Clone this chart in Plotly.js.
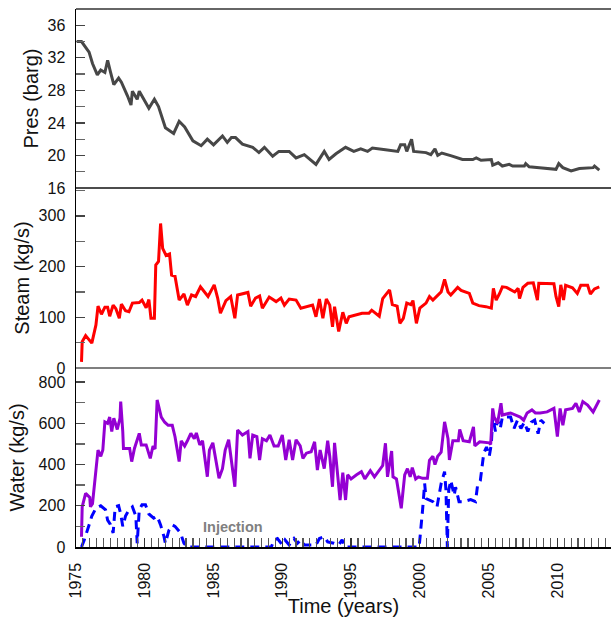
<!DOCTYPE html>
<html>
<head>
<meta charset="utf-8">
<script src="https://cdn.plot.ly/plotly-3.0.1.min.js"></script>
<style>
html,body{margin:0;padding:0;background:#fff;}
#chart{width:611px;height:617px;}
</style>
</head>
<body>
<div id="chart"></div>
<script>
// Pressure (barg)
const presYears = [1975.05, 1975.4, 1975.95, 1976.2, 1976.55, 1976.8, 1977.1, 1977.3, 1977.5, 1977.75, 1978.1,
  1978.3, 1978.75, 1979.0, 1979.1, 1979.45, 1979.6, 1980.3, 1980.7, 1981.0, 1981.5,
  1982.1, 1982.5, 1982.9, 1983.5, 1984.1, 1984.55, 1985.0, 1985.65, 1986.0, 1986.3,
  1986.6, 1987.1, 1987.85, 1988.3, 1988.7, 1989.3, 1989.75, 1990.5, 1991.0, 1991.6,
  1992.0, 1992.45, 1993.05, 1993.4, 1993.9, 1994.6, 1995.2, 1995.7, 1996.2, 1996.55,
  1997.5, 1998.4, 1998.6, 1998.9, 1999.05, 1999.4, 1999.55, 2000.45, 2000.8, 2001.1,
  2001.3, 2001.6, 2002.3, 2003.1, 2003.85, 2004.1, 2004.45, 2005.2, 2005.3, 2005.7,
  2006.0, 2006.5, 2006.75, 2007.6, 2007.7, 2007.95, 2008.7, 2009.9, 2010.1, 2010.4,
  2011.0, 2011.6, 2012.6, 2012.7, 2013.05];
const presValues = [34.0, 34.0, 32.7, 31.3, 29.9, 30.5, 30.2, 31.7, 30.3, 28.7, 29.5,
  29.0, 27.3, 26.2, 27.9, 26.9, 27.9, 25.8, 26.9, 26.0, 23.4,
  22.7, 24.2, 23.5, 21.8, 21.2, 22.0, 21.3, 22.4, 21.6, 22.2,
  22.2, 21.4, 21.0, 20.35, 21.0, 19.9, 20.5, 20.5, 19.7, 20.1,
  19.5, 18.9, 20.5, 19.5, 20.2, 21.0, 20.5, 20.8, 20.5, 20.9,
  20.7, 20.5, 21.3, 21.3, 20.5, 22.0, 20.5, 20.35, 20.1, 20.8,
  20.0, 20.3, 19.95, 19.5, 19.5, 19.7, 19.4, 19.5, 18.8, 19.1,
  18.7, 18.9, 18.7, 18.7, 19.0, 18.6, 18.5, 18.3, 19.0, 18.5,
  18.1, 18.4, 18.5, 18.7, 18.2];

// Steam (kg/s)
const steamYears = [1975.4, 1975.45, 1975.7, 1976.15, 1976.45, 1976.6, 1976.85, 1977.1, 1977.3, 1977.45,
  1977.7, 1977.9, 1978.15, 1978.3, 1978.6, 1978.85, 1979.1, 1979.6, 1979.8, 1980.1,
  1980.3, 1980.45, 1980.7, 1980.8, 1981.0, 1981.15, 1981.3, 1981.55, 1981.8, 1981.95,
  1982.2, 1982.5, 1982.85, 1983.1, 1983.4, 1983.7, 1984.05, 1984.4, 1984.6, 1985.05,
  1985.3, 1985.5, 1985.9, 1986.25, 1986.55, 1986.75, 1987.1, 1987.5, 1987.7, 1988.05,
  1988.35, 1988.55, 1989.05, 1989.55, 1989.9, 1990.15, 1990.5, 1991.0, 1991.35, 1991.7,
  1992.2, 1992.45, 1992.7, 1992.95, 1993.2, 1993.45, 1993.65, 1993.8, 1994.1, 1994.4,
  1994.65, 1994.85, 1995.3, 1995.8, 1996.3, 1996.5, 1997.05, 1997.3, 1997.8, 1998.0,
  1998.35, 1998.55, 1998.8, 1999.05, 1999.35, 1999.5, 1999.75, 2000.0, 2000.45, 2000.7,
  2000.95, 2001.3, 2001.55, 2001.8, 2002.05, 2002.25, 2002.6, 2002.75, 2003.0, 2003.6,
  2003.85, 2004.3, 2004.8, 2005.2, 2005.35, 2005.55, 2005.8, 2006.0, 2006.3, 2006.65,
  2006.9, 2007.15, 2007.25, 2007.5, 2007.85, 2008.25, 2008.55, 2008.65, 2009.4, 2009.75,
  2009.9, 2010.1, 2010.25, 2010.45, 2010.6, 2011.1, 2011.45, 2011.7, 2012.2, 2012.4,
  2012.7, 2013.05];
const steamValues = [12, 52, 64, 49, 85, 122, 106, 120, 120, 102,
  124, 117, 98, 126, 113, 111, 128, 129, 134, 119,
  135, 98, 98, 203, 210, 285, 236, 222, 225, 183,
  181, 134, 146, 124, 144, 141, 160, 147, 141, 164,
  138, 108, 133, 141, 98, 144, 147, 149, 122, 138,
  142, 118, 140, 131, 138, 124, 136, 134, 118, 121,
  124, 101, 136, 98, 136, 124, 81, 121, 72, 110,
  88, 101, 104, 108, 108, 114, 102, 137, 154, 125,
  122, 88, 98, 128, 125, 133, 88, 118, 128, 141,
  134, 144, 150, 175, 150, 144, 154, 159, 153, 147,
  128, 123, 121, 118, 157, 134, 147, 160, 159, 154,
  150, 157, 137, 159, 167, 168, 134, 167, 167, 166,
  141, 121, 164, 134, 163, 158, 147, 163, 163, 146,
  156, 160];

// Water production (kg/s)
const waterYears = [1975.4, 1975.45, 1975.7, 1976.0, 1976.05, 1976.2, 1976.45, 1976.6, 1976.8, 1976.95,
  1977.1, 1977.3, 1977.45, 1977.6, 1977.75, 1978.0, 1978.2, 1978.25, 1978.4, 1978.45,
  1978.9, 1979.05, 1979.25, 1979.6, 1979.75, 1980.1, 1980.4, 1980.6, 1980.75, 1980.9,
  1981.2, 1981.45, 1981.7, 1982.0, 1982.2, 1982.5, 1982.65, 1982.9, 1983.1, 1983.35,
  1983.6, 1983.75, 1984.0, 1984.2, 1984.55, 1984.7, 1984.95, 1985.15, 1985.4, 1985.65,
  1985.85, 1986.1, 1986.35, 1986.55, 1986.75, 1987.1, 1987.5, 1987.65, 1987.85, 1988.15,
  1988.35, 1988.55, 1988.85, 1989.1, 1989.4, 1989.7, 1990.0, 1990.25, 1990.5, 1990.75,
  1991.0, 1991.3, 1991.5, 1991.75, 1992.1, 1992.35, 1992.55, 1992.75, 1993.05, 1993.3,
  1993.45, 1993.65, 1993.8, 1994.0, 1994.2, 1994.4, 1994.6, 1994.75, 1995.0, 1995.4,
  1995.75, 1996.0, 1996.4, 1996.7, 1997.1, 1997.3, 1997.5, 1997.65, 1997.95, 1998.05,
  1998.3, 1998.65, 1998.9, 1999.1, 1999.3, 1999.45, 1999.7, 1999.9, 2000.2, 2000.55,
  2000.7, 2000.95, 2001.1, 2001.3, 2001.55, 2001.8, 2002.05, 2002.15, 2002.4, 2002.8,
  2002.9, 2003.15, 2003.6, 2003.9, 2004.0, 2004.35, 2005.05, 2005.15, 2005.3, 2005.4,
  2005.65, 2005.9, 2006.0, 2006.6, 2007.3, 2007.55, 2007.8, 2008.15, 2008.4, 2008.75,
  2009.25, 2009.75, 2010.0, 2010.2, 2010.4, 2010.6, 2011.1, 2011.35, 2011.6, 2011.85,
  2012.2, 2012.6, 2013.05];
const waterValues = [50, 195, 260, 240, 195, 210, 373, 470, 440, 470,
  607, 600, 630, 560, 625, 570, 625, 705, 560, 478,
  478, 414, 478, 551, 495, 495, 430, 490, 475, 713,
  630, 605, 590, 590, 535, 414, 515, 490, 515, 551,
  525, 553, 495, 515, 341, 470, 505, 422, 333, 380,
  470, 520, 380, 292, 567, 543, 560, 430, 543, 535,
  422, 525, 515, 543, 490, 490, 543, 422, 520, 422,
  520, 490, 430, 455, 462, 510, 373, 470, 380, 515,
  440, 292, 505, 373, 228, 360, 228, 350, 330, 350,
  365, 330, 370, 340, 380, 395, 503, 340, 465, 340,
  330, 188, 350, 380, 340, 385, 330, 340, 333, 333,
  420, 440, 400, 440, 460, 607, 525, 422, 515, 515,
  570, 515, 510, 583, 490, 510, 505, 497, 672, 630,
  600, 697, 640, 650, 630, 615, 650, 665, 650, 650,
  655, 672, 535, 672, 590, 665, 672, 697, 655, 705,
  688, 655, 713];

// Injection (kg/s)
const injYears = [1975.4, 1975.6, 1975.95, 1976.15, 1976.45, 1976.8, 1977.15, 1977.3, 1977.5, 1977.7,
  1977.85, 1978.1, 1978.25, 1978.4, 1978.6, 1978.85, 1979.1, 1979.35, 1979.45, 1979.6,
  1979.8, 1980.05, 1980.3, 1980.65, 1980.9, 1981.15, 1981.4, 1981.5, 1981.75, 1982.0,
  1982.2, 1982.6, 1982.85, 1983.1, 1989.2, 1989.4, 1989.65, 1990.0, 1990.2, 1990.5,
  1990.85, 1991.1, 1991.35, 1991.6, 1992.45, 1992.7, 1993.05, 1993.3, 1993.75, 1994.1,
  1994.35, 1994.5, 1994.7, 1999.95, 2000.2, 2000.35, 2000.45, 2000.95, 2001.25, 2001.55,
  2001.8, 2001.9, 2002.0, 2002.1, 2002.25, 2002.5, 2002.6, 2002.85, 2003.2, 2003.7,
  2004.05, 2004.2, 2004.4, 2004.65, 2004.85, 2005.05, 2005.2, 2005.3, 2005.5, 2005.65,
  2005.85, 2006.0, 2006.6, 2006.85, 2007.1, 2007.35, 2007.6, 2007.85, 2008.1, 2008.35,
  2008.6, 2008.8, 2009.05];
const injValues = [0, 34, 107, 150, 188, 200, 180, 130, 110, 68,
  195, 200, 160, 100, 150, 180, 195, 150, 18, 180,
  205, 205, 160, 140, 150, 107, 50, 18, 80, 107,
  100, 68, 18, 0, 0, 34, 41, 10, 34, 10,
  41, 18, 34, 10, 10, 41, 50, 25, 18, 10,
  35, 5, 0, 0, 180, 308, 235, 220, 195, 308,
  365, 275, 0, 275, 323, 250, 290, 220, 220, 230,
  220, 300, 323, 455, 485, 440, 500, 630, 560, 615,
  575, 630, 630, 575, 615, 575, 605, 560, 605, 615,
  550, 615, 600];

const panelTitles = ["Pres (barg)", "Steam (kg/s)", "Water (kg/s)"];
const injectionLabel = "Injection";

const FONT = "Liberation Sans, Arial, Helvetica, sans-serif";

const traces = [
  {x: presYears, y: presValues, xaxis: 'x', yaxis: 'y3', mode: 'lines',
   line: {color: '#474747', width: 3}, hoverinfo: 'skip'},
  {x: steamYears, y: steamValues, xaxis: 'x', yaxis: 'y2', mode: 'lines',
   line: {color: '#ff0000', width: 3}, hoverinfo: 'skip'},
  {x: injYears, y: injValues, xaxis: 'x', yaxis: 'y', mode: 'lines',
   line: {color: '#0000ff', width: 3, dash: '9px,6px'}, hoverinfo: 'skip'},
  {x: waterYears, y: waterValues, xaxis: 'x', yaxis: 'y', mode: 'lines',
   line: {color: '#9400d3', width: 3}, hoverinfo: 'skip'}
];

function yax(domain, range, dtick, minorDtick, tick0, title, standoff) {
  return {
    domain: domain, range: range, dtick: dtick, tick0: tick0, anchor: 'x',
    ticks: 'inside', ticklen: 9, tickwidth: 1.3, tickcolor: '#444',
    minor: {ticks: 'inside', ticklen: 9, tickwidth: 1.3, tickcolor: '#666', dtick: minorDtick, tick0: tick0},
    showline: true, linecolor: '#000', linewidth: 1.5,
    showgrid: false, zeroline: false,
    tickfont: {family: FONT, size: 16, color: '#111'},
    ticklabelstandoff: 6,
    title: {text: title, font: {family: FONT, size: 20, color: '#111'}, standoff: standoff}
  };
}

const layout = {
  width: 611, height: 617,
  margin: {l: 76, r: 0, t: 9, b: 70, pad: 0},
  paper_bgcolor: '#fff', plot_bgcolor: '#fff',
  showlegend: false,
  xaxis: {
    range: [1975, 2013.9], anchor: 'y', domain: [0, 1],
    tickmode: 'linear', tick0: 1975, dtick: 5, tickangle: -90,
    ticks: 'inside', ticklen: 9, tickwidth: 1.2, tickcolor: '#333',
    minor: {ticks: 'inside', ticklen: 9, tickwidth: 1.2, tickcolor: '#555', dtick: 0.5, tick0: 1975},
    showline: true, linecolor: '#000', linewidth: 1.5,
    showgrid: false, zeroline: false,
    tickfont: {family: FONT, size: 16, color: '#111'},
    ticklabelstandoff: 8,
    title: {text: 'Time (years)', font: {family: FONT, size: 20, color: '#111'}, standoff: 0}
  },
  yaxis: yax([0, 0.3327], [0, 868], 200, 100, 0, panelTitles[2], 8),
  yaxis2: yax([0.3327, 0.6673], [0, 355], 100, 50, 0, panelTitles[1], 3),
  yaxis3: yax([0.6673, 1], [16, 38], 4, 2, 16, panelTitles[0], 3),
  shapes: [
    {type: 'line', xref: 'paper', yref: 'paper', x0: 0, x1: 1, y0: 1, y1: 1, line: {color: '#333', width: 1.5}},
    {type: 'line', xref: 'paper', yref: 'paper', x0: 0, x1: 1, y0: 0.6673, y1: 0.6673, line: {color: '#111', width: 1.5}},
    {type: 'line', xref: 'paper', yref: 'paper', x0: 0, x1: 1, y0: 0.3327, y1: 0.3327, line: {color: '#555', width: 1.5}}
  ],
  annotations: [
    {x: 1986.4, y: 95, xref: 'x', yref: 'y', text: '<b>' + injectionLabel + '</b>', showarrow: false,
     font: {family: FONT, size: 14.5, color: '#808080'}}
  ]
};

Plotly.newPlot('chart', traces, layout, {displayModeBar: false, staticPlot: true});
</script>
</body>
</html>
